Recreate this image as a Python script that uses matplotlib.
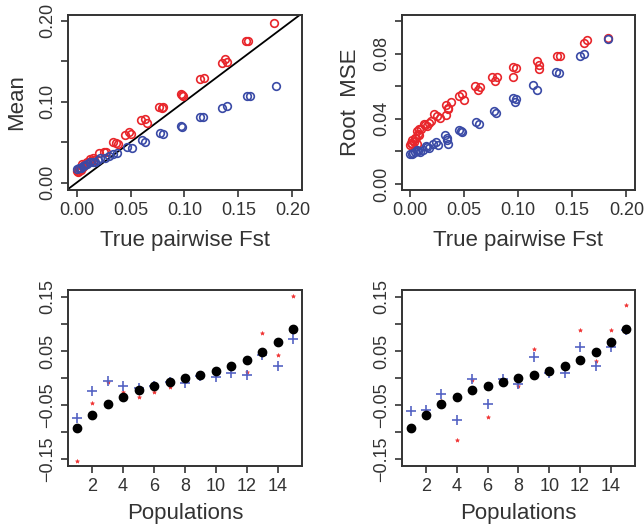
import matplotlib.pyplot as plt

# ---- top left: mean estimate vs true pairwise Fst ----
mean_red_x = [0.1826, 0.157, 0.159, 0.135, 0.138, 0.139, 0.114, 0.118, 0.0969, 0.099, 0.098,
              0.076, 0.079, 0.080, 0.0596, 0.063, 0.065, 0.0453, 0.0484, 0.0506, 0.0335, 0.0366,
              0.038, 0.021, 0.025, 0.027, 0.012, 0.015, 0.016, 0.005, 0.007, 0.009, 0.0, 0.002, 0.004,
              0.001, 0.003, 0.006, 0.010, 0.013]
mean_red_y = [0.197, 0.1745, 0.1745, 0.148, 0.152, 0.149, 0.128, 0.129, 0.1095, 0.1074, 0.108,
              0.093, 0.092, 0.093, 0.077, 0.0786, 0.073, 0.059, 0.062, 0.060, 0.050, 0.0486,
              0.0477, 0.036, 0.038, 0.038, 0.029, 0.030, 0.028, 0.0226, 0.0214, 0.024, 0.0148, 0.014, 0.0156,
              0.013, 0.017, 0.019, 0.025, 0.027]
mean_blue_x = [0.185, 0.158, 0.161, 0.135, 0.139, 0.114, 0.117, 0.097, 0.098, 0.077, 0.080,
               0.061, 0.063, 0.047, 0.051, 0.0335, 0.037, 0.022, 0.026, 0.012, 0.015,
               0.006, 0.008, 0.0, 0.0025, 0.004, 0.010, 0.017, 0.020, 0.030]
mean_blue_y = [0.1198, 0.107, 0.107, 0.092, 0.094, 0.081, 0.0815, 0.070, 0.069, 0.061, 0.060,
               0.052, 0.0506, 0.0436, 0.0432, 0.0354, 0.0362, 0.030, 0.0305, 0.025, 0.026,
               0.021, 0.022, 0.0165, 0.0177, 0.018, 0.023, 0.026, 0.028, 0.033]

# ---- top right: root MSE vs true pairwise Fst ----
rmse_red_x = [0.1833, 0.161, 0.164, 0.136, 0.139, 0.1176, 0.119, 0.1198, 0.0957, 0.098, 0.0957,
              0.0765, 0.0787, 0.081, 0.0605, 0.063, 0.065, 0.0457, 0.0488, 0.0503, 0.0333, 0.0358,
              0.038, 0.034, 0.0225, 0.0256, 0.0278, 0.013, 0.016, 0.018, 0.007, 0.009, 0.0086,
              0.0025, 0.005, 0.0068, 0.0, 0.001, 0.002, 0.004, 0.006, 0.008, 0.011, 0.014, 0.020, 0.0355]
rmse_red_y = [0.0899, 0.0868, 0.0887, 0.0786, 0.0786, 0.0759, 0.0734, 0.0707, 0.0718, 0.0711, 0.066,
              0.0656, 0.0635, 0.066, 0.0602, 0.0577, 0.0598, 0.0538, 0.0553, 0.0515, 0.0487, 0.0458,
              0.0507, 0.0423, 0.0429, 0.0419, 0.0404, 0.0371, 0.0357, 0.0377, 0.0326, 0.030, 0.0336,
              0.0268, 0.028, 0.0243, 0.0239, 0.0254, 0.0245, 0.026, 0.0285, 0.031, 0.034, 0.0365, 0.039, 0.047]
rmse_blue_x = [0.1833, 0.157, 0.161, 0.135, 0.1377, 0.1136, 0.118, 0.0957, 0.0975, 0.098, 0.0778,
               0.0796, 0.061, 0.064, 0.0457, 0.0488, 0.0327, 0.0349, 0.0358, 0.024, 0.0265,
               0.015, 0.018, 0.007, 0.010, 0.0, 0.0025, 0.003, 0.005, 0.008, 0.012, 0.016, 0.022,
               0.0345, 0.047]
rmse_blue_y = [0.0893, 0.0784, 0.080, 0.069, 0.068, 0.0608, 0.058, 0.0528, 0.0507, 0.052, 0.045,
               0.0437, 0.0384, 0.0371, 0.033, 0.0318, 0.0301, 0.0268, 0.0243, 0.0256, 0.0239,
               0.0233, 0.0223, 0.0206, 0.0198, 0.0181, 0.0186, 0.0192, 0.0195, 0.020, 0.021, 0.0225, 0.0245,
               0.028, 0.0325]

# ---- bottom panels: per population ----
pops = list(range(1, 16))
truth = [-0.093, -0.069, -0.049, -0.035, -0.023, -0.014, -0.007, 0.000, 0.006, 0.013,
         0.022, 0.033, 0.048, 0.067, 0.091]
left_blue = [-0.075, -0.025, -0.006, -0.014, -0.018, -0.014, -0.007, -0.009, 0.003, 0.001,
             0.009, 0.006, 0.042, 0.022, 0.073]
left_red = [-0.153, -0.047, -0.008, -0.026, -0.035, -0.026, -0.017, -0.001, 0.004, 0.013,
            0.018, 0.011, 0.083, 0.043, 0.151]
right_blue = [-0.061, -0.060, -0.030, -0.077, -0.002, -0.048, -0.002, -0.012, 0.038, 0.010,
              0.010, 0.058, 0.023, 0.058, 0.088]
right_red = [-0.093, -0.062, -0.043, -0.115, -0.003, -0.072, -0.003, -0.015, 0.054, 0.015,
             0.020, 0.088, 0.031, 0.088, 0.136]

red = '#e8262b'
blue = '#3a4aa6'
txt = '#333333'

plt.rcParams.update({'font.family': ['Liberation Sans', 'DejaVu Sans'],
                     'axes.edgecolor': '#333333', 'axes.linewidth': 1.4,
                     'xtick.color': '#333333', 'ytick.color': '#333333',
                     'xtick.labelcolor': txt, 'ytick.labelcolor': txt,
                     'xtick.major.size': 5, 'ytick.major.size': 5,
                     'xtick.major.width': 1.2, 'ytick.major.width': 1.2,
                     'xtick.labelsize': 13, 'ytick.labelsize': 13})

fig = plt.figure(figsize=(6.44, 5.32), dpi=100)
ax_tl = fig.add_axes([0.1056, 0.643, 0.3634, 0.329])
ax_tr = fig.add_axes([0.6242, 0.643, 0.3618, 0.329])
ax_bl = fig.add_axes([0.1056, 0.124, 0.3634, 0.331])
ax_br = fig.add_axes([0.6242, 0.124, 0.3618, 0.331])


def r_yticks(ax, ticks, labels):
    ax.set_yticks(ticks)
    ax.set_yticklabels(labels, rotation=90, va='center')


# top left
ax_tl.plot([-1, 1], [-1, 1], color='black', lw=1.3, zorder=1)
ax_tl.plot(mean_red_x, mean_red_y, 'o', mfc='none', mec=red, ms=5.5, mew=1.2)
ax_tl.plot(mean_blue_x, mean_blue_y, 'o', mfc='none', mec=blue, ms=5.5, mew=1.2)
ax_tl.set_xlim(-0.008, 0.209)
ax_tl.set_ylim(-0.009, 0.207)
ax_tl.set_xticks([0, 0.05, 0.10, 0.15, 0.20])
ax_tl.set_xticklabels(['0.00', '0.05', '0.10', '0.15', '0.20'])
r_yticks(ax_tl, [0, 0.05, 0.10, 0.15, 0.20], ['0.00', '', '0.10', '', '0.20'])
ax_tl.set_xlabel('True pairwise Fst', fontsize=16, color=txt, labelpad=8)
ax_tl.set_ylabel('Mean', fontsize=16, color=txt, labelpad=9)

# top right
ax_tr.plot(rmse_red_x, rmse_red_y, 'o', mfc='none', mec=red, ms=5.5, mew=1.2)
ax_tr.plot(rmse_blue_x, rmse_blue_y, 'o', mfc='none', mec=blue, ms=5.5, mew=1.2)
ax_tr.set_xlim(-0.007, 0.208)
ax_tr.set_ylim(-0.0037, 0.104)
ax_tr.set_xticks([0, 0.05, 0.10, 0.15, 0.20])
ax_tr.set_xticklabels(['0.00', '0.05', '0.10', '0.15', '0.20'])
r_yticks(ax_tr, [0, 0.02, 0.04, 0.06, 0.08, 0.10], ['0.00', '', '0.04', '', '0.08', ''])
ax_tr.set_xlabel('True pairwise Fst', fontsize=16, color=txt, labelpad=8)
ax_tr.set_ylabel('Root  MSE', fontsize=16, color=txt, labelpad=9)

# bottom panels
for ax, blues, reds in [(ax_bl, left_blue, left_red), (ax_br, right_blue, right_red)]:
    ax.plot(pops, reds, '*', color='#f03030', ms=3, mew=0.4)
    ax.plot(pops, blues, '+', color='#5563c4', ms=6.5, mew=1.2)
    ax.plot(pops, truth, 'o', color='black', ms=6)
    ax.set_xlim(0.44, 15.56)
    ax.set_ylim(-0.163, 0.163)
    ax.set_xticks([2, 4, 6, 8, 10, 12, 14])
    r_yticks(ax, [-0.15, -0.10, -0.05, 0, 0.05, 0.10, 0.15],
             ['\u22120.15', '', '\u22120.05', '', '0.05', '', '0.15'])
    ax.set_xlabel('Populations', fontsize=16, color=txt, labelpad=6)

plt.savefig('out.png', dpi=100)
